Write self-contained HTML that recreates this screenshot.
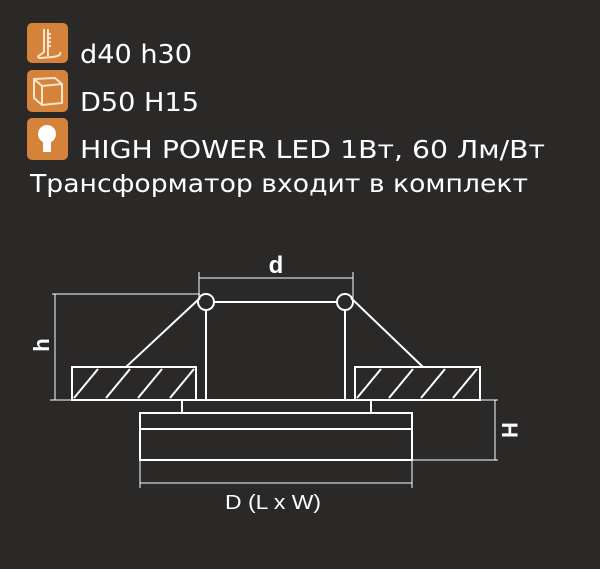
<!DOCTYPE html>
<html><head><meta charset="utf-8"><style>
html,body{margin:0;padding:0;background:#2b2828;}
svg{display:block;}
text{font-family:"DejaVu Sans","Liberation Sans",sans-serif;fill:#fff;}
text.l{font-family:"Liberation Sans",sans-serif;}
</style></head><body>
<svg width="600" height="569" viewBox="0 0 600 569" xmlns="http://www.w3.org/2000/svg">
<rect width="600" height="569" fill="#2b2828"/>
<rect x="27" y="23" width="41" height="40" rx="5" fill="#d5823a"/>
<g stroke="#f5e6cc" stroke-width="2" fill="none">
<path d="M44 29 L44 52 L40 55 Q36 57 40 58 L52 57 Q62 56 60 52"/>
<path d="M48 29 L48 56"/>
<path d="M48 34 h3 M48 38 h3 M48 42 h3 M48 46 h3"/>
</g>
<rect x="27" y="70" width="41" height="42" rx="5" fill="#d5823a"/>
<g stroke="#f5e6cc" stroke-width="2" fill="none">
<path d="M34 79 L55 78 L62 84 L62 103 L42 105 L34 98 Z M34 79 L42 86 L62 84 M42 86 L42 105"/>
</g>
<rect x="27" y="118" width="41" height="42" rx="5" fill="#d5823a"/>
<circle cx="47" cy="134" r="9" fill="#fff"/>
<rect x="43" y="138" width="8" height="14" fill="#fff"/>
<text x="80" y="63" font-size="26" textLength="112" lengthAdjust="spacingAndGlyphs">d40 h30</text>
<text x="80" y="111" font-size="26" textLength="119" lengthAdjust="spacingAndGlyphs">D50 H15</text>
<text x="80" y="158" font-size="25" textLength="465" lengthAdjust="spacingAndGlyphs">HIGH POWER LED 1Вт, 60 Лм/Вт</text>
<text x="30" y="192" font-size="25" textLength="498" lengthAdjust="spacingAndGlyphs">Трансформатор входит в комплект</text>
<g stroke="#fff" fill="none">
<g stroke-width="1">
<line x1="199" y1="278" x2="353" y2="278"/>
<line x1="199" y1="272" x2="199" y2="300"/>
<line x1="353" y1="272" x2="353" y2="300"/>
<line x1="52" y1="294" x2="200" y2="294"/>
<line x1="55" y1="294" x2="55" y2="400"/>
<line x1="50" y1="400" x2="72" y2="400"/>
<line x1="412" y1="400" x2="498" y2="400"/>
<line x1="495" y1="400" x2="495" y2="460"/>
<line x1="412" y1="460" x2="498" y2="460"/>
<line x1="140" y1="483" x2="412" y2="483"/>
<line x1="140" y1="460" x2="140" y2="488"/>
<line x1="412" y1="460" x2="412" y2="488"/>
</g>
<g stroke-width="2">
<circle cx="206" cy="302" r="8"/>
<circle cx="345" cy="302" r="8"/>
<line x1="214" y1="302" x2="337" y2="302"/>
<line x1="206" y1="310" x2="206" y2="400"/>
<line x1="345" y1="310" x2="345" y2="400"/>
<line x1="200" y1="298" x2="126" y2="367"/>
<line x1="351" y1="298" x2="423" y2="367"/>
<rect x="72" y="367" width="124" height="33"/>
<rect x="355" y="367" width="125" height="33"/>
<line x1="72" y1="400" x2="480" y2="400"/>
<rect x="182" y="400" width="189" height="13"/>
<rect x="140" y="413" width="272" height="47"/>
<line x1="140" y1="429" x2="412" y2="429"/>
<line x1="74" y1="398" x2="98" y2="369"/>
<line x1="106" y1="398" x2="130" y2="369"/>
<line x1="138" y1="398" x2="162" y2="369"/>
<line x1="170" y1="398" x2="194" y2="369"/>
<line x1="357" y1="398" x2="381" y2="369"/>
<line x1="389" y1="398" x2="413" y2="369"/>
<line x1="421" y1="398" x2="445" y2="369"/>
<line x1="453" y1="398" x2="477" y2="369"/>
</g>
</g>
<text class="l" x="276" y="273" font-size="24" font-weight="bold" text-anchor="middle">d</text>
<text class="l" x="273" y="509" font-size="20" text-anchor="middle" textLength="96" lengthAdjust="spacingAndGlyphs">D (L x W)</text>
<text class="l" transform="translate(49,345) rotate(-90)" font-size="22" font-weight="bold" text-anchor="middle">h</text>
<text class="l" transform="translate(502,430) rotate(90)" font-size="22" font-weight="bold" text-anchor="middle">H</text>
</svg>
</body></html>
